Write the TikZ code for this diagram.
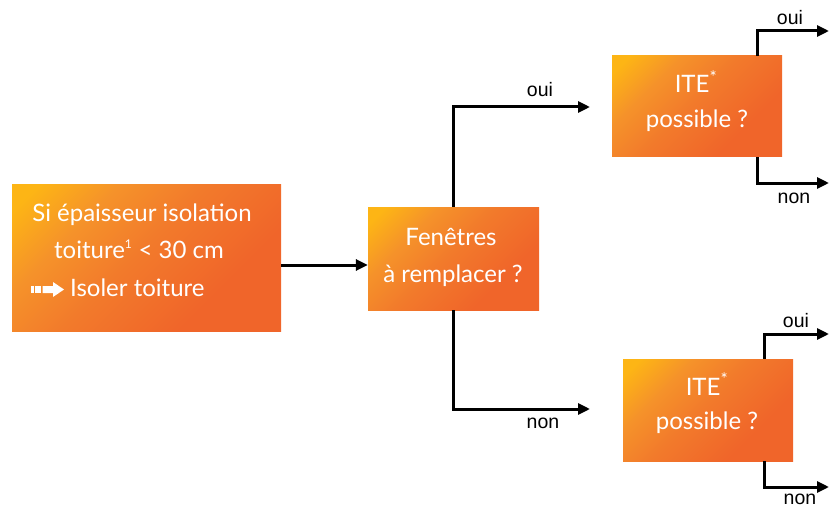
\documentclass[tikz,border=0pt]{standalone}
\usepackage{fontspec}
\setmainfont{Lato}
\newfontfamily\labfont{Liberation Sans}
\usetikzlibrary{arrows.meta}
\definecolor{gyellow}{HTML}{FDB515}
\definecolor{gmid}{HTML}{F5922A}
\definecolor{gcen}{HTML}{F27A2B}
\definecolor{gred}{HTML}{F0652A}
\pgfdeclareverticalshading{orangeshade}{100bp}{color(0bp)=(gred); color(32bp)=(gred); color(52bp)=(gcen); color(67bp)=(gmid); color(81bp)=(gyellow); color(100bp)=(gyellow)}
\tikzset{
  obox/.style={rectangle, inner sep=0pt, shading=orangeshade, shading angle=45},
  btxt/.style={text=white, font=\fontsize{24}{28}\selectfont, anchor=base, inner sep=0pt},
  lab/.style={font=\labfont\fontsize{19.5}{22}\selectfont, anchor=base, inner sep=0pt},
  conn/.style={line width=3pt, -{Triangle[length=12pt,width=11pt]}},
}
\begin{document}
\begin{tikzpicture}[x=1pt,y=-1pt]
\useasboundingbox (0,0) rectangle (830,508);
% boxes
\node[obox, minimum width=269pt, minimum height=147pt] (b1) at (146.5,257.5) {};
\node[obox, minimum width=171pt, minimum height=103pt] (b2) at (453.5,258.5) {};
\node[obox, minimum width=170pt, minimum height=101pt] (b3) at (697,106.5) {};
\node[obox, minimum width=170pt, minimum height=102pt] (b4) at (708,410) {};
% box 1 text
\node[btxt] (t11) at (142,221) {Si épaisseur isolation};
\node[btxt] (t12) at (139,258) {toiture\textsuperscript{\fontsize{12}{12}\selectfont 1} < 30 cm};
\node[btxt, anchor=base west] (t13) at (70,296) {Isoler toiture};
% dashed arrow symbol
\fill[white] (31,286) rectangle (33.5,293);
\fill[white] (35,286) rectangle (41,293);
\fill[white] (42.5,286) rectangle (53,293) -- (53,282) -- (64,289.5) -- (53,297) -- cycle;
% box 2 text
\node[btxt] (t21) at (451,245) {Fenêtres};
\node[btxt] (t22) at (453,282) {à remplacer ?};
% box 3 text
\node[btxt] (t31) at (696,93) {ITE\textsuperscript{\fontsize{17}{17}\selectfont *}};
\node[btxt] (t32) at (697,128) {possible ?};
% box 4 text
\node[btxt] (t41) at (707,395) {ITE\textsuperscript{\fontsize{17}{17}\selectfont *}};
\node[btxt] (t42) at (707,429) {possible ?};
% coordinates of free ends
\coordinate (e2o) at (590,107);
\coordinate (e2n) at (590,409);
\coordinate (e3o) at (829,31);
\coordinate (e3n) at (829,183);
\coordinate (e4o) at (829,334);
\coordinate (e4n) at (829,487);
% connectors
\draw[conn] ([yshift=-7.5pt]b1.east) -- ([yshift=-7.5pt]b1.east -| b2.west);
\draw[conn] (b2.north) |- (e2o);
\draw[conn] (b2.south) |- (e2n);
\draw[conn] ([xshift=-25pt]b3.north east) |- (e3o);
\draw[conn] ([xshift=-25pt]b3.south east) |- (e3n);
\draw[conn] ([xshift=-29pt]b4.north east) |- (e4o);
\draw[conn] ([xshift=-29pt]b4.south east) |- (e4n);
% labels
\node[lab] (l2o) at (540,97) {oui};
\node[lab] (l2n) at (543,428) {non};
\node[lab] (l3o) at (790,25) {oui};
\node[lab] (l3n) at (794,203) {non};
\node[lab] (l4o) at (796,327) {oui};
\node[lab] (l4n) at (800,504) {non};
\end{tikzpicture}
\end{document}
